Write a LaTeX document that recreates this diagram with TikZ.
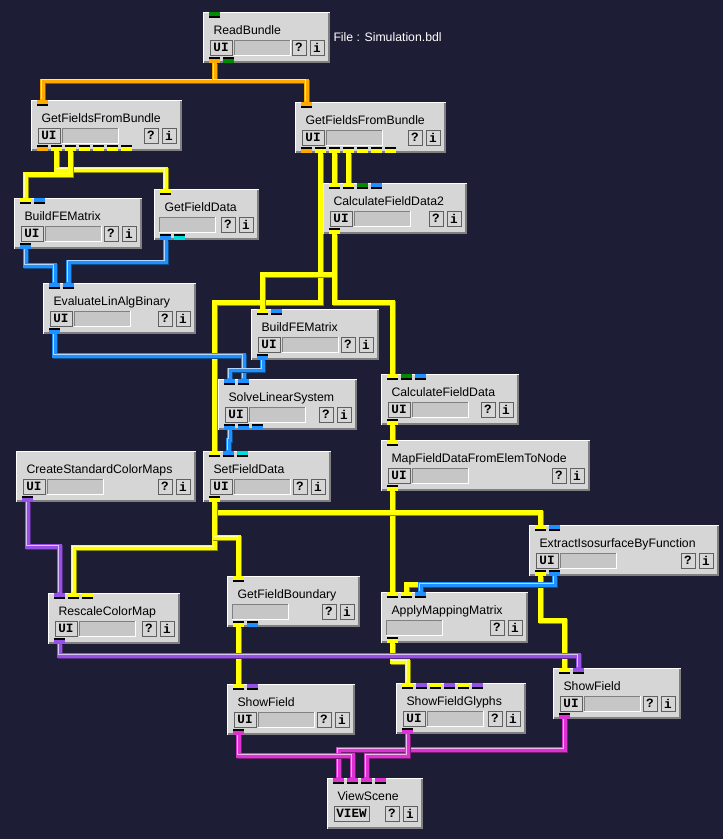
\documentclass[tikz,border=0pt]{standalone}
\usepackage{fontspec}
\setmainfont{Liberation Sans}
\newfontfamily\btnfont{Liberation Mono}
\usetikzlibrary{calc,backgrounds}

\definecolor{bgcol}{RGB}{29,30,54}
\definecolor{modgray}{RGB}{214,214,214}
\definecolor{fieldgray}{RGB}{198,198,198}
\definecolor{edgegray}{RGB}{128,128,128}
\definecolor{btndark}{RGB}{96,96,96}
\definecolor{pyellow}{RGB}{255,255,0}
\definecolor{porange}{RGB}{255,170,0}
\definecolor{pblue}{RGB}{30,144,255}
\definecolor{pcyan}{RGB}{0,220,220}
\definecolor{pgreen}{RGB}{0,140,0}
\definecolor{ppurple}{RGB}{150,80,230}
\definecolor{pmagenta}{RGB}{220,50,210}

\tikzset{every picture/.style={line width=0.75pt},
  modbox/.style={fill=modgray, draw=none, inner sep=0pt, outer sep=0pt, minimum height=38.25pt},
  modtitle/.style={anchor=base west, inner sep=0pt, font=\fontsize{9.2}{10}\selectfont},
  btnbox/.style={fill=modgray, draw=btndark, line width=0.75pt},
  btntext/.style={inner sep=0pt, font=\btnfont\bfseries\fontsize{9.5}{10}\selectfont},
  infotext/.style={anchor=base west, inner sep=0pt, text=white, font=\fontsize{9.2}{10}\selectfont},
  pipe/.style={draw=#1, line width=3.5pt,
    preaction={draw=#1!55!black, line width=3.5pt, transform canvas={xshift=0.7pt,yshift=-0.7pt}},
    postaction={draw=#1!35!white, line width=0.8pt, transform canvas={xshift=-1pt,yshift=1pt}}}
}

% #1 name, #2 x, #3 y, #4 width, #5 title, #6 button, #7 button width, #8 field x
\newcommand{\scimod}[8]{%
  \begin{scope}[shift={(#2,#3)}]
    \node[modbox, minimum width=#4*0.75pt, anchor=north west] (#1) at (0,0) {};
    \draw[white] (0.5,51) -- (0.5,0.5) -- (#4,0.5);
    \draw[edgegray, line width=1.5pt] (#4-1,1) -- (#4-1,50) -- (1,50);
    \node[modtitle] (#1-title) at (10,22) {#5};
    \if\relax\detokenize{#6}\relax\else
      \draw[btnbox] (7,28) rectangle ++(#7,15);
      \node[btntext] (#1-btn) at (7+#7/2,35.5) {#6};
    \fi
    \if\relax\detokenize{#8}\relax\else
      \fill[fieldgray] (#8,28) rectangle ++(56,15);
      \draw[edgegray] (#8,43) -- (#8,28) -- (#8+56,28);
      \draw[white] (#8+56,28) -- (#8+56,43) -- (#8,43);
    \fi
    \draw[btnbox] (#4-38,28) rectangle ++(14,15);
    \node[btntext] (#1-help) at (#4-31,35.5) {?};
    \draw[btnbox] (#4-20,28) rectangle ++(14,15);
    \node[btntext] (#1-info) at (#4-13,35.5) {i};
  \end{scope}}

\newcommand{\inports}[2]{%
  \foreach \c [count=\k from 0] in {#2} {
    \fill[fill=\c] ($(#1.north west)+(6+14*\k,0)$) rectangle ++(11,4);
    \fill[black] ($(#1.north west)+(6+14*\k,4)$) rectangle ++(11,2);
    \coordinate (#1-i\k) at ($(#1.north west)+(11.5+14*\k,0)$);
  }}

\newcommand{\outports}[2]{%
  \foreach \c [count=\k from 0] in {#2} {
    \fill[black] ($(#1.south west)+(6+14*\k,-6)$) rectangle ++(11,2);
    \fill[fill=\c] ($(#1.south west)+(6+14*\k,-4)$) rectangle ++(11,4);
    \coordinate (#1-o\k) at ($(#1.south west)+(11.5+14*\k,0)$);
  }}

\begin{document}
\begin{tikzpicture}[x=0.75pt,y=0.75pt,yscale=-1,xscale=1]
\useasboundingbox (0,0) rectangle (723,839);

% Modules
\scimod{rb}{203}{12}{127}{ReadBundle}{UI}{22}{31}
\scimod{gfb1}{31}{100}{151}{GetFieldsFromBundle}{UI}{22}{31}
\scimod{gfb2}{295}{102}{151}{GetFieldsFromBundle}{UI}{22}{31}
\scimod{bfe1}{14}{198}{128}{BuildFEMatrix}{UI}{22}{31}
\scimod{gfd}{154}{189}{105}{GetFieldData}{}{0}{5}
\scimod{cfd2}{323}{183}{144}{CalculateFieldData2}{UI}{22}{31}
\scimod{elab}{43}{283}{153}{EvaluateLinAlgBinary}{UI}{22}{31}
\scimod{bfe2}{251}{309}{128}{BuildFEMatrix}{UI}{22}{31}
\scimod{sls}{218}{379}{139}{SolveLinearSystem}{UI}{22}{31}
\scimod{csc}{16}{451}{180}{CreateStandardColorMaps}{UI}{22}{31}
\scimod{sfd}{203}{451}{128}{SetFieldData}{UI}{22}{31}
\scimod{cfd}{381}{374}{138}{CalculateFieldData}{UI}{22}{31}
\scimod{mfd}{381}{440}{209}{MapFieldDataFromElemToNode}{UI}{22}{31}
\scimod{eibf}{529}{525}{190}{ExtractIsosurfaceByFunction}{UI}{22}{31}
\scimod{amm}{381}{592}{147}{ApplyMappingMatrix}{}{0}{5}
\scimod{rcm}{48}{593}{132}{RescaleColorMap}{UI}{22}{31}
\scimod{gfbd}{227}{576}{133}{GetFieldBoundary}{}{0}{5}
\scimod{sf1}{227}{684}{128}{ShowField}{UI}{22}{31}
\scimod{sfg}{396}{683}{130}{ShowFieldGlyphs}{UI}{22}{31}
\scimod{sf2}{553}{668}{128}{ShowField}{UI}{22}{31}
\scimod{vs}{327}{778}{96}{ViewScene}{VIEW}{35}{}

% Text Node
\node[infotext] (rb-file) at (333,41) {File : Simulation.bdl};

% Ports
\inports{rb}{pgreen}            \outports{rb}{porange,pgreen}
\inports{gfb1}{porange}         \outports{gfb1}{porange,pyellow,pyellow,pyellow,pyellow,pyellow,pyellow}
\inports{gfb2}{porange}         \outports{gfb2}{porange,pyellow,pyellow,pyellow,pyellow,pyellow,pyellow}
\inports{bfe1}{pyellow,pblue}   \outports{bfe1}{pblue}
\inports{gfd}{pyellow}          \outports{gfd}{pblue,pcyan}
\inports{cfd2}{pyellow,pyellow,pgreen,pblue} \outports{cfd2}{pyellow}
\inports{elab}{pblue,pblue}     \outports{elab}{pblue}
\inports{bfe2}{pyellow,pblue}   \outports{bfe2}{pblue}
\inports{sls}{pblue,pblue}      \outports{sls}{pblue,pblue,pblue}
\outports{csc}{ppurple}
\inports{sfd}{pyellow,pblue,pcyan} \outports{sfd}{pyellow}
\inports{cfd}{pyellow,pgreen,pblue} \outports{cfd}{pyellow}
\inports{mfd}{pyellow}          \outports{mfd}{pyellow}
\inports{eibf}{pyellow,pblue}   \outports{eibf}{pyellow,pblue}
\inports{amm}{pyellow,pyellow,pblue} \outports{amm}{pyellow}
\inports{rcm}{ppurple,pyellow,pyellow} \outports{rcm}{ppurple}
\inports{gfbd}{pyellow}         \outports{gfbd}{pyellow,pblue}
\inports{sf1}{pyellow,ppurple}  \outports{sf1}{pmagenta}
\inports{sfg}{pyellow,ppurple,pyellow,ppurple,pyellow,ppurple} \outports{sfg}{pmagenta}
\inports{sf2}{pyellow,ppurple}  \outports{sf2}{pmagenta}
\inports{vs}{pmagenta,pmagenta,pmagenta,pmagenta}

% Pipes
\begin{pgfonlayer}{background}
\fill[bgcol] (0,0) rectangle (723,839);
\draw[pipe=porange] (rb-o0) -- (rb-o0 |- 0,81) -| (gfb1-i0);
\draw[pipe=porange] (rb-o0) -- (rb-o0 |- 0,81) -| (gfb2-i0);
\draw[pipe=pyellow] (gfb1-o1) -- (gfb1-o1 |- 0,169.5) -| (gfd-i0);
\draw[pipe=pyellow] (gfb1-o2) -- (gfb1-o2 |- 0,174.5) -| (bfe1-i0);
\draw[pipe=pyellow] (gfb2-o2) -- (cfd2-i0);
\draw[pipe=pyellow] (gfb2-o3) -- (cfd2-i1);
\draw[pipe=pyellow] (gfb2-o1) -- (gfb2-o1 |- 0,302.5) -| (sfd-i0);
\draw[pipe=pyellow] (cfd2-o0) -- (cfd2-o0 |- 0,274.5) -| (bfe2-i0);
\draw[pipe=pyellow] (cfd2-o0) -- (cfd2-o0 |- 0,302.5) -| (cfd-i0);
\draw[pipe=pyellow] (cfd-o0) -- (mfd-i0);
\draw[pipe=pyellow] (mfd-o0) -- (amm-i0);
\draw[pipe=pyellow] (sfd-o0) -- (sfd-o0 |- 0,512.5) -| (eibf-i0);
\draw[pipe=pyellow] (sfd-o0) -- (sfd-o0 |- 0,547.5) -| (rcm-i1);
\draw[pipe=pyellow] (sfd-o0) -- (sfd-o0 |- 0,537.5) -| (gfbd-i0);
\draw[pipe=pyellow] (eibf-o0) -- (eibf-o0 |- 0,620.5) -| (sf2-i0);
\draw[pipe=pyellow] (eibf-o0) -- (eibf-o0 |- 0,584.5) -| (amm-i1);
\draw[pipe=pyellow] (amm-o0) -- (amm-o0 |- 0,661.5) -| (sfg-i0);
\draw[pipe=pyellow] (gfbd-o0) -- (sf1-i0);
\draw[pipe=pblue] (bfe1-o0) -- (bfe1-o0 |- 0,265.5) -| (elab-i0);
\draw[pipe=pblue] (gfd-o0) -- (gfd-o0 |- 0,262) -| (elab-i1);
\draw[pipe=pblue] (elab-o0) -- (elab-o0 |- 0,355.5) -| (sls-i1);
\draw[pipe=pblue] (bfe2-o0) -- (bfe2-o0 |- 0,370) -| (sls-i0);
\draw[pipe=pblue] (sls-o0) -- (sls-o0 |- 0,440) -| (sfd-i1);
\draw[pipe=pblue] (eibf-o1) -- (eibf-o1 |- 0,584.5) -| (amm-i2);
\draw[pipe=ppurple] (csc-o0) -- (csc-o0 |- 0,546.5) -| (rcm-i0);
\draw[pipe=ppurple] (rcm-o0) -- (rcm-o0 |- 0,655.5) -| (sf2-i1);
\draw[pipe=pmagenta] (sf2-o0) -- (sf2-o0 |- 0,749.5) -| (vs-i0);
\draw[pipe=pmagenta] (sf1-o0) -- (sf1-o0 |- 0,755.5) -| (vs-i1);
\draw[pipe=pmagenta] (sfg-o0) -- (sfg-o0 |- 0,755.5) -| (vs-i2);
\end{pgfonlayer}

\end{tikzpicture}
\end{document}
